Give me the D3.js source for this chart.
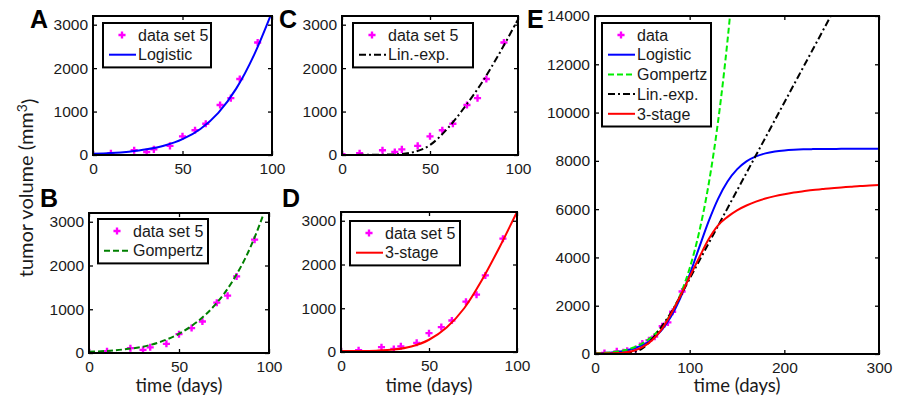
<!DOCTYPE html>
<html>
<head>
<meta charset="utf-8">
<script src="https://cdn.jsdelivr.net/npm/d3@7/dist/d3.min.js"></script>
<style>
  body { margin: 0; background: #fff; }
  svg { display: block; }
</style>
</head>
<body>
<svg id="chart" width="897" height="399"></svg>
<script>
// measured tumour volumes (data set 5)
const dataDays   = [0, 10, 23, 30, 34, 43, 50, 57, 63, 71, 77, 82, 92];
const dataVolume = [20, 40, 110, 70, 130, 210, 430, 570, 720, 1150, 1310, 1750, 2590];

const fitDays    = [0, 10, 20, 30, 40, 50, 60, 70, 80, 90, 100, 110, 120, 130, 140, 150,
                    160, 170, 180, 190, 200, 210, 220, 230, 240, 250, 260, 270, 280, 290, 300];
const logistic   = [27, 45, 77, 130, 218, 364, 600, 971, 1528, 2306, 3293, 4403, 5492, 6428, 7144, 7646,
                    7976, 8183, 8311, 8388, 8433, 8460, 8477, 8486, 8492, 8495, 8497, 8498, 8499, 8500, 8500];
const gompertz   = [28, 48, 85, 145, 260, 440, 711, 1098, 1659, 2448, 3552, 5046, 7020, 9630, 12990, 17190,
                    null, null, null, null, null, null, null, null, null, null, null, null, null, null, null];
const linExp     = [2, 3, 6, 14, 60, 230, 610, 1120, 1700, 2380, 3120, 3850, 4580, 5310, 6040, 6770,
                    7500, 8230, 8960, 9690, 10420, 11150, 11880, 12610, 13340, 14070, null, null, null, null, null];
const threeStage = [20, 22, 30, 55, 125, 280, 560, 1000, 1640, 2390, 3200, 3990, 4750, 5330, 5680, 5950,
                    6150, 6310, 6440, 6540, 6620, 6690, 6740, 6790, 6830, 6870, 6900, 6930, 6960, 6980, 7000];

const smallXTicks = [0, 50, 100];
const smallYTicks = [0, 1000, 2000, 3000];
const bigXTicks   = [0, 100, 200, 300];
const bigYTicks   = [0, 2000, 4000, 6000, 8000, 10000, 12000, 14000];

const models = {
  logistic:   { label: "Logistic",  values: logistic,   color: "#0000ff", dash: null },
  gompertz:   { label: "Gompertz",  values: gompertz,   color: "#008000", dash: "6,3" },
  linExp:     { label: "Lin.-exp.", values: linExp,     color: "#000000", dash: "7,3,2,3" },
  threeStage: { label: "3-stage",   values: threeStage, color: "#ff0000", dash: null }
};

const tickFont = "'Liberation Sans', Arial, sans-serif";
const titleFont = "Lato, 'Open Sans', sans-serif";

const panels = [
  { id: "A", box: [93, 16, 272, 155], letter: [30, 28], xMax: 100, yMax: 3200, xt: smallXTicks, yt: smallYTicks,
    fits: ["logistic"], dataLabel: "data set 5", legend: [103, 23, 108] },
  { id: "B", box: [89, 213, 269, 353], letter: [40, 207], xMax: 100, yMax: 3200, xt: smallXTicks, yt: smallYTicks,
    fits: ["gompertz"], dataLabel: "data set 5", legend: [98, 219, 110], xTitle: true },
  { id: "C", box: [342, 16, 518, 155], letter: [279, 28], xMax: 100, yMax: 3200, xt: smallXTicks, yt: smallYTicks,
    fits: ["linExp"], dataLabel: "data set 5", legend: [353, 23, 120] },
  { id: "D", box: [341, 212, 517, 352], letter: [282, 207], xMax: 100, yMax: 3200, xt: smallXTicks, yt: smallYTicks,
    fits: ["threeStage"], dataLabel: "data set 5", legend: [350, 221, 110], xTitle: true },
  { id: "E", box: [595, 16, 879, 354], letter: [527, 28], xMax: 300, yMax: 14000, xt: bigXTicks, yt: bigYTicks,
    fits: ["logistic", "gompertz", "linExp", "threeStage"], dataLabel: "data", legend: [602, 23, 109], xTitle: true,
    colorOverride: { gompertz: "#00ee00" } }
];

const svg = d3.select("#chart");

const marker = d3.symbol().type(d3.symbolCross).size(28);

panels.forEach((p, pi) => {
  const [x0, y0, x1, y1] = p.box;
  const x = d3.scaleLinear().domain([0, p.xMax]).range([x0, x1]);
  const y = d3.scaleLinear().domain([0, p.yMax]).range([y1, y0]);
  const g = svg.append("g");

  const clipId = "clip" + pi;
  svg.append("clipPath").attr("id", clipId)
    .append("rect").attr("x", x0).attr("y", y0).attr("width", x1 - x0).attr("height", y1 - y0);

  const plot = g.append("g").attr("clip-path", `url(#${clipId})`);

  // data markers
  plot.selectAll("path.pt")
    .data(dataDays.map((d, i) => [d, dataVolume[i]]))
    .join("path")
    .attr("class", "pt")
    .attr("transform", d => `translate(${x(d[0])},${y(d[1])})`)
    .attr("d", marker)
    .attr("fill", "#ff00ff");

  // fitted curves
  p.fits.forEach(k => {
    const m = models[k];
    const color = (p.colorOverride && p.colorOverride[k]) || m.color;
    const line = d3.line()
      .defined(d => d[1] != null)
      .x(d => x(d[0]))
      .y(d => y(d[1]))
      .curve(d3.curveMonotoneX);
    plot.append("path")
      .datum(fitDays.map((d, i) => [d, m.values[i]]))
      .attr("d", line)
      .attr("fill", "none")
      .attr("stroke", color)
      .attr("stroke-width", 2)
      .attr("stroke-dasharray", m.dash);
  });

  // axes, MATLAB style inward ticks on all four sides
  const styleAxis = sel => {
    sel.select(".domain").remove();
    sel.selectAll("line").attr("stroke", "#000").attr("stroke-width", 1.3);
    sel.selectAll("text").attr("font-family", tickFont).attr("font-size", "15.5px").attr("fill", "#1a1a1a");
  };
  g.append("g").attr("transform", `translate(0,${y1})`)
    .call(d3.axisBottom(x).tickValues(p.xt).tickSizeInner(-4).tickSizeOuter(0).tickPadding(8).tickFormat(d3.format("d")))
    .call(styleAxis);
  g.append("g").attr("transform", `translate(${x0},0)`)
    .call(d3.axisLeft(y).tickValues(p.yt).tickSizeInner(-4).tickSizeOuter(0).tickPadding(5).tickFormat(d3.format("d")))
    .call(styleAxis);
  g.append("g").attr("transform", `translate(0,${y0})`)
    .call(d3.axisTop(x).tickValues(p.xt).tickSizeInner(-4).tickSizeOuter(0).tickFormat(""))
    .call(styleAxis);
  g.append("g").attr("transform", `translate(${x1},0)`)
    .call(d3.axisRight(y).tickValues(p.yt).tickSizeInner(-4).tickSizeOuter(0).tickFormat(""))
    .call(styleAxis);

  g.append("rect")
    .attr("x", x0).attr("y", y0).attr("width", x1 - x0).attr("height", y1 - y0)
    .attr("fill", "none").attr("stroke", "#000").attr("stroke-width", 2);

  // legend
  const [lx, ly, lw] = p.legend;
  const rows = [{ label: p.dataLabel, data: true }].concat(p.fits.map(k => ({ key: k, label: models[k].label })));
  const step = 19.7;
  const lh = 4 + rows.length * step + 1;
  const lg = g.append("g");
  lg.append("rect").attr("x", lx).attr("y", ly).attr("width", lw).attr("height", lh)
    .attr("fill", "#fff").attr("stroke", "#000").attr("stroke-width", 2);
  rows.forEach((r, i) => {
    const cy = ly + 12 + i * step;
    if (r.data) {
      lg.append("path").attr("transform", `translate(${lx + 19},${cy})`).attr("d", marker).attr("fill", "#ff00ff");
    } else {
      const m = models[r.key];
      lg.append("line").attr("x1", lx + 6).attr("x2", lx + 33).attr("y1", cy).attr("y2", cy)
        .attr("stroke", (p.colorOverride && p.colorOverride[r.key]) || m.color)
        .attr("stroke-width", 2).attr("stroke-dasharray", m.dash);
    }
    lg.append("text").attr("x", lx + 35).attr("y", cy).attr("dy", "0.36em")
      .attr("font-family", tickFont).attr("font-size", "16px").attr("fill", "#1a1a1a")
      .text(r.label);
  });

  // panel letter
  svg.append("text").attr("x", p.letter[0]).attr("y", p.letter[1])
    .attr("font-family", tickFont).attr("font-weight", "bold").attr("font-size", "25px")
    .text(p.id);

  if (p.xTitle) {
    svg.append("text").attr("x", (x0 + x1) / 2).attr("y", 392)
      .attr("text-anchor", "middle")
      .attr("font-family", titleFont).attr("font-size", "18.5px").attr("fill", "#1a1a1a")
      .text("time (days)");
  }
});

// shared y axis title
const yt = svg.append("text")
  .attr("transform", "translate(33,188) rotate(-90)")
  .attr("text-anchor", "middle")
  .attr("font-family", titleFont).attr("font-size", "20px").attr("fill", "#1a1a1a");
yt.append("tspan").text("tumor volume (mm");
yt.append("tspan").attr("dy", "-0.45em").attr("font-size", "14px").text("3");
yt.append("tspan").attr("dy", "0.45em").text(")");
</script>
</body>
</html>
